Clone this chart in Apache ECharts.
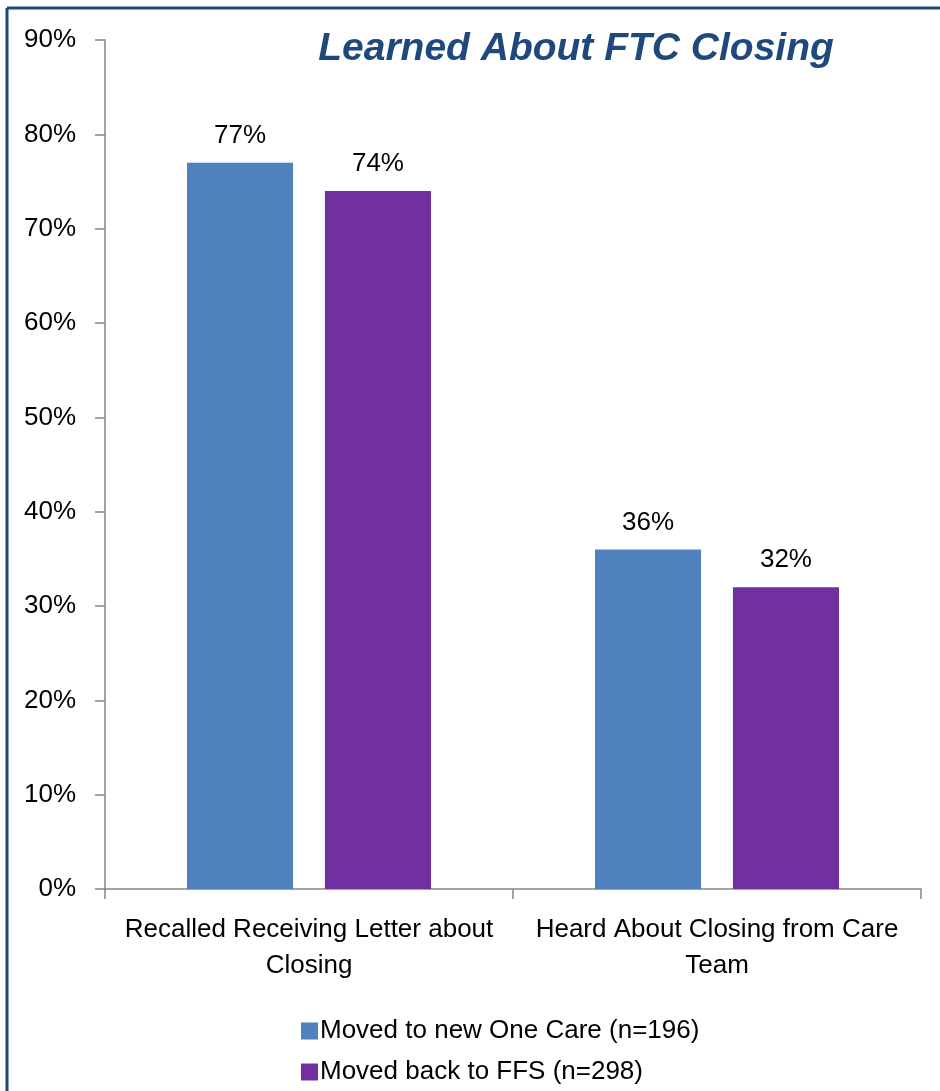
<!DOCTYPE html>
<html><head><meta charset="utf-8">
<script src="https://cdn.jsdelivr.net/npm/echarts@6/dist/echarts.min.js"></script>
<style>html,body{margin:0;padding:0;background:#fff}#c{width:940px;height:1091px}</style>
</head><body><div id="c"></div>
<script>
const categories = ['Recalled Receiving Letter about\nClosing', 'Heard About Closing from Care\nTeam'];
const seriesNames = ['Moved to new One Care (n=196)', 'Moved back to FFS (n=298)'];
const oneCare = [77, 36];
const ffs = [74, 32];
const chart = echarts.init(document.getElementById('c'));
const F = '"Liberation Sans Narrow", "Arial Narrow", "Liberation Sans", sans-serif';
chart.setOption({
  animation: false,
  title: {
    text: 'Learned About FTC Closing', left: 571, top: 25, textAlign: 'center',
    textStyle: {fontFamily: F, fontSize: 39, fontWeight: 'bold', fontStyle: 'italic', color: '#1f497d'}
  },
  graphic: [
    {type: 'line', shape: {x1: 7, y1: 8, x2: 940, y2: 8}, style: {stroke: '#1f497d', lineWidth: 3}},
    {type: 'line', shape: {x1: 7, y1: 8, x2: 7, y2: 1091}, style: {stroke: '#1f497d', lineWidth: 3}}
  ],
  grid: {left: 105, right: 19, top: 40, bottom: 202},
  legend: {
    orient: 'vertical', left: 296, top: 1013, itemWidth: 17, itemHeight: 17, itemGap: 15,
    icon: 'rect', data: seriesNames,
    textStyle: {fontFamily: F, fontSize: 26, color: '#000', padding: [0, 0, 0, -3]}
  },
  xAxis: {
    type: 'category', data: categories,
    axisLine: {lineStyle: {color: '#868686', width: 1.5}},
    axisTick: {show: true, length: 10, inside: false, lineStyle: {color: '#868686', width: 1.5}},
    axisLabel: {fontFamily: F, fontSize: 26, color: '#000', margin: 23, lineHeight: 36, interval: 0}
  },
  yAxis: {
    type: 'value', min: 0, max: 90, interval: 10,
    splitLine: {show: false},
    axisLine: {show: true, lineStyle: {color: '#868686', width: 1.5}},
    axisTick: {show: true, length: 10, lineStyle: {color: '#868686', width: 1.5}},
    axisLabel: {formatter: '{value}%', fontFamily: F, fontSize: 26, color: '#000', margin: 29}
  },
  series: [
    {name: seriesNames[0], type: 'bar', data: oneCare, barWidth: '26%', barGap: '30%',
     itemStyle: {color: '#4f81bd'},
     label: {show: true, position: 'top', distance: 14, formatter: '{c}%', fontFamily: F, fontSize: 26, color: '#000'}},
    {name: seriesNames[1], type: 'bar', data: ffs, barWidth: '26%',
     itemStyle: {color: '#7030a0'},
     label: {show: true, position: 'top', distance: 14, formatter: '{c}%', fontFamily: F, fontSize: 26, color: '#000'}}
  ]
});
</script></body></html>
